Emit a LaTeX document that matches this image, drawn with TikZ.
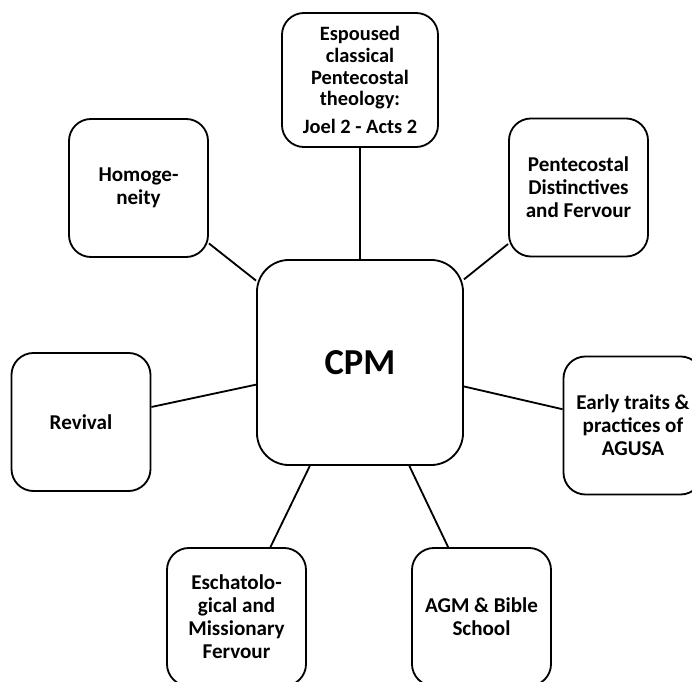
\documentclass[tikz,border=0pt]{standalone}
\usepackage{fontspec}
\setmainfont{Carlito}
\usepackage{tikz}
\usetikzlibrary{positioning}

\tikzset{
    topic/.style={draw, line width=1.3pt, rounded corners=0.55cm, align=center,
        minimum width=3.475cm, minimum height=3.45cm, inner sep=0pt,
        font=\bfseries\fontsize{15}{16.3}\selectfont},
    hub/.style={topic, rounded corners=0.8cm, minimum width=5.15cm, minimum height=5.125cm,
        font=\bfseries\fontsize{26}{30}\selectfont},
    link/.style={line width=1.3pt}
}

\begin{document}
\begin{tikzpicture}[x=0.025cm, y=-0.025cm]
    \useasboundingbox (0,0) rectangle (692,682);
    \clip (0,0) rectangle (692,682);

    % Centre
    \node[hub] (cpm) at (360,362.5) {CPM};

    % Surrounding topics
    \node[topic, minimum width=3.9cm, minimum height=3.35cm,
        font=\bfseries\fontsize{14.5}{15.4}\selectfont] (espoused) at (360,80)
        {Espoused\\classical\\Pentecostal\\theology:\\[4pt]Joel 2 - Acts 2};
    \node[topic] (homog) at (138.5,188) {Homoge-\\neity};
    \node[topic] (distinct) at (578.5,187.5) {Pentecostal\\Distinctives\\and Fervour};
    \node[topic] (revival) at (81,422) {Revival};
    \node[topic] (early) at (633,425.5) {Early traits \&\\practices of\\AGUSA};
    \node[topic] (eschat) at (236.5,617) {Eschatolo-\\gical and\\Missionary\\Fervour};
    \node[topic] (agm) at (481.5,617) {AGM \& Bible\\School};

    % Links
    \foreach \t in {espoused,homog,distinct,revival,early,eschat,agm}
        \draw[link] (\t) -- (cpm);
\end{tikzpicture}
\end{document}
